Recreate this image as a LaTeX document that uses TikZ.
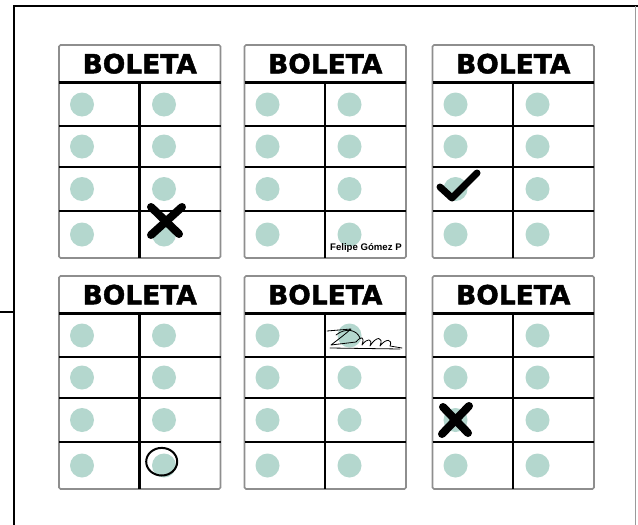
\documentclass[tikz,border=0pt]{standalone}
\usepackage{fontspec}
\setmainfont{Liberation Sans}
\newfontfamily\headfont{DejaVu Sans}[BoldFeatures={FakeBold=1.6}]
\usepackage{xcolor}
\usetikzlibrary{positioning}
\definecolor{DotTeal}{HTML}{B4D7CE}
\definecolor{SheetGray}{HTML}{8E8E8E}
\definecolor{EdgeGray}{HTML}{9A9A9A}
\tikzset{
  frameline/.style={line width=2.6pt, black},
  sheet/.style={draw=SheetGray, line width=1.6pt, fill=white, rounded corners=1.5pt},
  rule/.style={line width=2.2pt, black},
  dot/.style={circle, fill=DotTeal, inner sep=0pt, minimum size=24pt},
  title/.style={font=\headfont\bfseries\fontsize{26.5}{26.5}\selectfont, inner sep=0pt},
  inkstroke/.style={line width=7.5pt, line cap=round, line join=round, black},
  ring/.style={line width=2pt, black},
  scribble/.style={line width=0.8pt, black, line cap=round, line join=round},
  boleta/.pic={
    \draw[sheet] (0,0) rectangle (161.5,213);
    \node[title] (-head) at (80.75,18.7) {BOLETA};
    \foreach \ry in {37.5,81,122,166} \draw[rule] (0,\ry) -- (161.5,\ry);
    \draw[rule] (80.5,37.5) -- (80.5,213);
    \foreach \r/\dy in {1/59.5,2/101.5,3/144,4/189.5}
      \foreach \k/\dx in {1/23,2/105}
        \node[dot] (-\r-\k) at (\dx,\dy) {};
  }
}

\begin{document}
\begin{tikzpicture}[x=1pt, y=-1pt]
  \useasboundingbox (0,0) rectangle (638,525);
  \draw[frameline] (14,525) -- (14,6) -- (638,6);
  \draw[EdgeGray, line width=1pt] (635,6) -- (635,525);
  \draw[frameline, line width=2pt] (0,312) -- (14,312);

  \pic (b1) at (59,45) {boleta};
  \pic (b2) at (244.5,45) {boleta};
  \pic (b3) at (432.5,45) {boleta};
  \pic (b4) at (59,276) {boleta};
  \pic (b5) at (244.5,276) {boleta};
  \pic (b6) at (432.5,276) {boleta};

  \draw[inkstroke, line width=8pt] (151,207) -- (179,234);
  \draw[inkstroke, line width=8pt] (182,207) -- (151,235);

  \node[font=\bfseries\fontsize{9.6}{9.6}\selectfont, inner sep=0pt, anchor=base west]
    (firma) at (330,250) {Felipe Gómez P};

  \draw[inkstroke, line width=7pt] (440,187) -- (452,198) -- (477,173);

  \draw[ring] (161.7,461.7) ellipse (15.5 and 13.8);

  \draw[scribble] (327,331) -- (351,329) .. controls (344,335) .. (331,345) -- (356,342)
    .. controls (361,336) and (365,336) .. (362,345)
    .. controls (367,338) and (373,338) .. (370,346)
    .. controls (376,336) and (384,336) .. (380,346)
    .. controls (386,338) and (393,339) .. (390,346) -- (402,348);
  \draw[scribble] (330,348) -- (400,349);
  \draw[scribble] (336,335) .. controls (346,327) and (357,330) .. (360,338);

  \draw[inkstroke, line width=8pt] (443,407) -- (468,433);
  \draw[inkstroke, line width=8pt] (469,406) -- (442,434);
\end{tikzpicture}
\end{document}
